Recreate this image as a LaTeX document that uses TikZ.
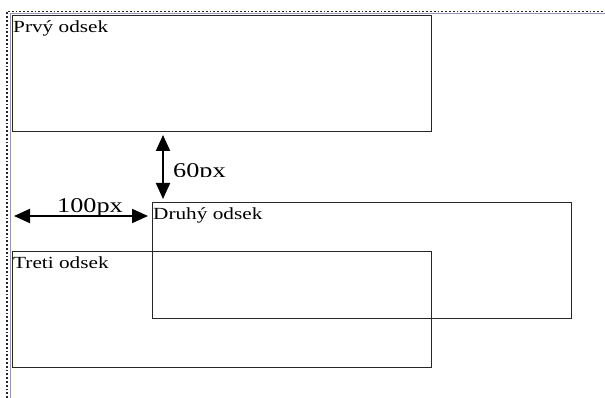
\documentclass[tikz,border=0pt]{standalone}
\usepackage{fontspec}
\setmainfont{Liberation Serif}[FakeStretch=1.25]
\usepackage{tikz}
\usetikzlibrary{arrows.meta}

\tikzset{
  odsek/.style = {draw=black!85, line width=1.3pt, anchor=north west, inner sep=0pt,
                  minimum width=419pt, minimum height=116pt},
  odsek text/.style = {anchor=base west, inner sep=0pt, font=\fontsize{17}{20}\selectfont},
  dim arrow/.style = {line width=2pt, {Triangle[length=16pt,width=14pt]}-{Triangle[length=16pt,width=14pt]}},
  dim text/.style = {anchor=base west, inner sep=0pt, font=\fontsize{21}{25}\selectfont},
  frame dots/.style = {line width=1.8pt, dotted, black!85},
  frame line/.style = {line width=1.2pt, gray!80!blue!70}
}

\begin{document}
\begin{tikzpicture}[x=1pt,y=-1pt]
\useasboundingbox (0,0) rectangle (605,398);

% -- frame
\draw[frame dots] (7,398) -- (7,11.5) -- (605,11.5);
\draw[frame line] (10.5,398) -- (10.5,13.8) -- (605,13.8);

% -- boxes
\node[odsek] (prvy) at (12,15) {};
\node[odsek] (druhy) at (152,202) {};
\node[odsek] (treti) at (12,251) {};

\node[odsek text] (prvytext) at ([xshift=1pt,yshift=-18pt]prvy.north west) {Prvý odsek};
\node[odsek text] (druhytext) at ([xshift=1pt,yshift=-18pt]druhy.north west) {Druhý odsek};
\node[odsek text] (tretitext) at ([xshift=1pt,yshift=-17.5pt]treti.north west) {Treti odsek};

% -- 60px
\coordinate (vtop) at (163,135);
\coordinate (vbot) at (163,199);
\draw[dim arrow] (vtop) -- (vbot);
\begin{scope}
  \clip (165,150) rectangle (240,177);
  \node[dim text] (vlabel) at (173,177.5) {60px};
\end{scope}

% -- 100px
\coordinate (hleft) at (14,216);
\coordinate (hright) at (148,216);
\begin{scope}
  \clip (40,190) rectangle (140,215);
  \node[dim text] (hlabel) at (57,213) {100px};
\end{scope}
\draw[dim arrow] (hleft) -- (hright);

\end{tikzpicture}
\end{document}
